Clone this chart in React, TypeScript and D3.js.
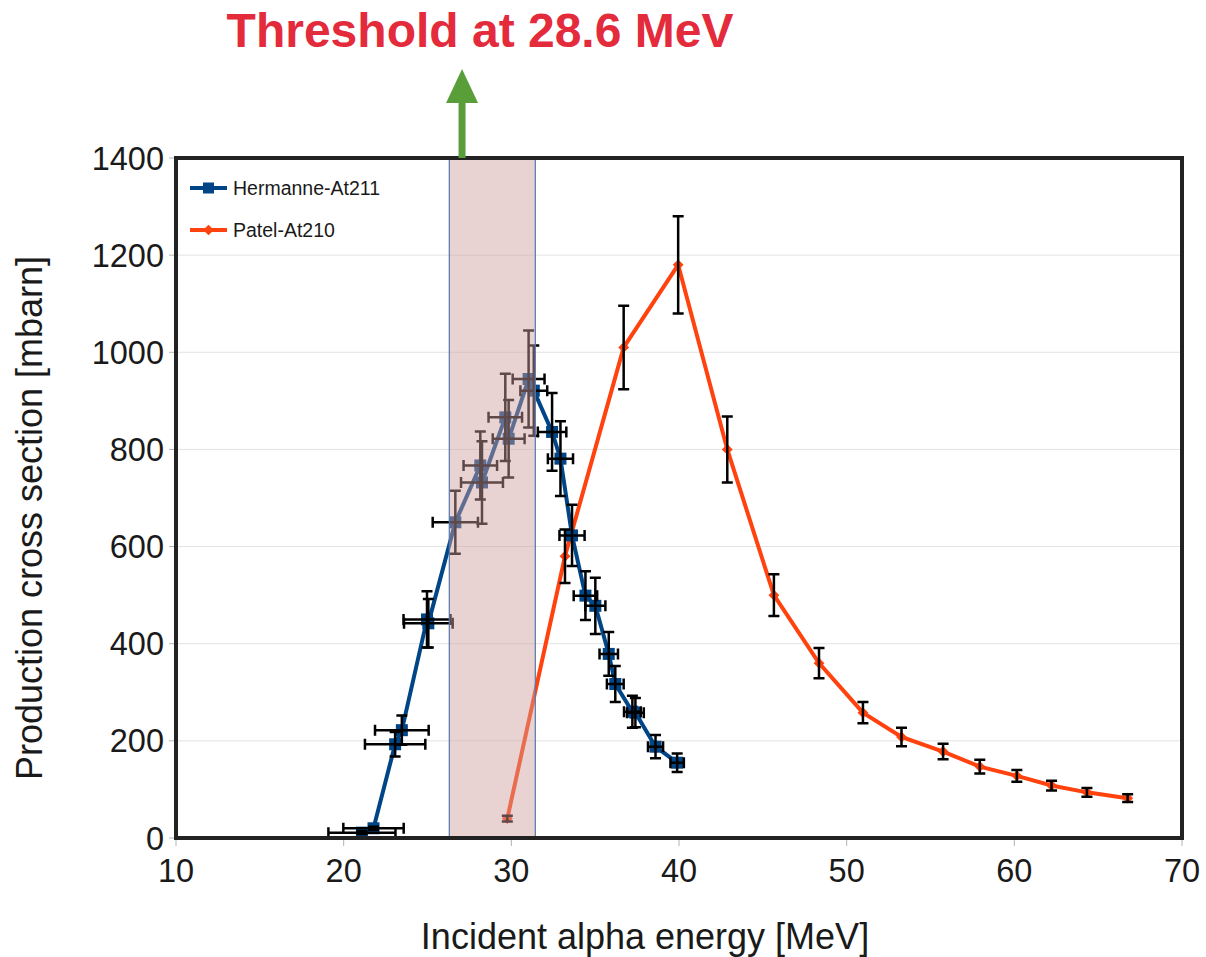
import React, { useEffect, useRef } from "react"
import * as d3 from "d3"

// Hermanne-At211 measurements (energy MeV, cross section mbarn, errors)
const hermanneEnergy = [21.09, 21.78, 23.07, 23.47, 24.97, 25.05, 26.66, 28.15, 28.25, 29.64, 29.84, 31.03, 31.34, 32.43, 32.93, 33.62, 34.42, 35.01, 35.81, 36.2, 37.22, 37.4, 38.6, 39.89]
const hermanneXs = [11, 20, 193, 222, 450, 442, 650, 767, 732, 866, 822, 945, 921, 836, 781, 623, 499, 478, 379, 317, 260, 258, 188, 155]
const hermanneXErr = [2.0, 1.8, 1.8, 1.6, 1.4, 1.45, 1.35, 1.0, 1.25, 1.0, 0.95, 0.95, 0.8, 0.85, 0.75, 0.75, 0.7, 0.6, 0.55, 0.5, 0.5, 0.5, 0.45, 0.4]
const hermanneYErr = [3, 3, 25, 30, 58, 50, 65, 70, 85, 90, 80, 100, 93, 80, 77, 63, 50, 58, 45, 37, 33, 30, 24, 19]

// Patel-At210 measurements
const patelEnergy = [29.76, 33.2, 36.7, 39.95, 42.88, 45.66, 48.35, 50.97, 53.27, 55.75, 57.94, 60.15, 62.22, 64.33, 66.76]
const patelXs = [40, 580, 1010, 1180, 800, 500, 360, 258, 208, 178, 147, 128, 108, 94, 82]
const patelYErr = [6, 55, 86, 100, 68, 43, 31, 22, 19, 16, 14, 12, 10, 9, 8]

const xTicks = [10, 20, 30, 40, 50, 60, 70]
const yTicks = [0, 200, 400, 600, 800, 1000, 1200, 1400]

// shaded energy window and threshold arrow position
const bandRange = [26.3, 31.43]
const arrowEnergy = 27.06

const seriesNames = ["Hermanne-At211", "Patel-At210"]

const App = () => {
  const svgRef = useRef<SVGSVGElement>(null)

  useEffect(() => {
    if (!svgRef.current) return
    const svg = d3.select(svgRef.current)
    svg.selectAll("*").remove()

    const left = 176, right = 1182, top = 158, bottom = 838
    const font = "'Liberation Sans', Arial, sans-serif"
    const blue = "#004586"
    const orange = "#ff420e"

    const x = d3.scaleLinear().domain([10, 70]).range([left, right])
    const y = d3.scaleLinear().domain([0, 1400]).range([bottom, top])

    // grid
    svg.append("g")
      .selectAll("line")
      .data(yTicks.slice(1, -1))
      .enter()
      .append("line")
      .attr("x1", left).attr("x2", right)
      .attr("y1", d => y(d)).attr("y2", d => y(d))
      .attr("stroke", "#e3e3e3")
      .attr("stroke-width", 1)

    // small tick marks outside the frame
    svg.append("g")
      .selectAll("line")
      .data(xTicks)
      .enter()
      .append("line")
      .attr("x1", d => x(d)).attr("x2", d => x(d))
      .attr("y1", bottom).attr("y2", bottom + 8)
      .attr("stroke", "#b3b3b3")
      .attr("stroke-width", 1)
    svg.append("g")
      .selectAll("line")
      .data(yTicks)
      .enter()
      .append("line")
      .attr("x1", left - 7).attr("x2", left)
      .attr("y1", d => y(d)).attr("y2", d => y(d))
      .attr("stroke", "#b3b3b3")
      .attr("stroke-width", 1)

    // tick labels
    svg.append("g")
      .selectAll("text")
      .data(xTicks)
      .enter()
      .append("text")
      .attr("x", d => x(d))
      .attr("y", bottom + 44)
      .attr("text-anchor", "middle")
      .attr("font-family", font)
      .attr("font-size", 32.5)
      .attr("fill", "#1a1a1a")
      .text(d => d)
    svg.append("g")
      .selectAll("text")
      .data(yTicks)
      .enter()
      .append("text")
      .attr("x", left - 12)
      .attr("y", d => y(d) + 11.5)
      .attr("text-anchor", "end")
      .attr("font-family", font)
      .attr("font-size", 32.5)
      .attr("fill", "#1a1a1a")
      .text(d => d)

    // axis titles
    svg.append("text")
      .attr("x", 645)
      .attr("y", 949)
      .attr("text-anchor", "middle")
      .attr("font-family", font)
      .attr("font-size", 36)
      .attr("fill", "#1a1a1a")
      .text("Incident alpha energy [MeV]")
    svg.append("text")
      .attr("transform", "translate(42, 518) rotate(-90)")
      .attr("text-anchor", "middle")
      .attr("font-family", font)
      .attr("font-size", 36)
      .attr("fill", "#1a1a1a")
      .text("Production cross section [mbarn]")

    const hermanne = hermanneEnergy.map((e, i) => ({ e, v: hermanneXs[i], ex: hermanneXErr[i], ey: hermanneYErr[i] }))
    const patel = patelEnergy.map((e, i) => ({ e, v: patelXs[i], ex: 0, ey: patelYErr[i] }))

    const line = d3.line<any>().x(d => x(d.e)).y(d => y(d.v))
    const plot = svg.append("g")

    // lines
    plot.append("path")
      .attr("d", line(hermanne))
      .attr("fill", "none")
      .attr("stroke", blue)
      .attr("stroke-width", 4)
    plot.append("path")
      .attr("d", line(patel))
      .attr("fill", "none")
      .attr("stroke", orange)
      .attr("stroke-width", 4)

    // markers
    plot.append("g")
      .selectAll("rect")
      .data(hermanne)
      .enter()
      .append("rect")
      .attr("x", d => x(d.e) - 6)
      .attr("y", d => y(d.v) - 6)
      .attr("width", 12)
      .attr("height", 12)
      .attr("fill", blue)
    plot.append("g")
      .selectAll("path")
      .data(patel)
      .enter()
      .append("path")
      .attr("d", d3.symbol().type(d3.symbolDiamond2).size(75)())
      .attr("transform", d => `translate(${x(d.e)}, ${y(d.v)})`)
      .attr("fill", orange)

    // error bars
    const bars = plot.append("g")
      .attr("stroke", "#000")
      .attr("stroke-width", 2.5)
      .attr("fill", "none")
    const cap = 5.5
    hermanne.concat(patel).forEach(d => {
      const cx = x(d.e), cy = y(d.v)
      const y0 = y(d.v - d.ey), y1 = y(d.v + d.ey)
      bars.append("path")
        .attr("d", `M${cx},${y0}V${y1}M${cx - cap},${y0}H${cx + cap}M${cx - cap},${y1}H${cx + cap}`)
      if (d.ex > 0) {
        const x0 = x(d.e - d.ex), x1 = x(d.e + d.ex)
        bars.append("path")
          .attr("d", `M${x0},${cy}H${x1}M${x0},${cy - cap}V${cy + cap}M${x1},${cy - cap}V${cy + cap}`)
      }
    })

    // shaded band drawn over the data
    svg.append("rect")
      .attr("x", x(bandRange[0]))
      .attr("y", top)
      .attr("width", x(bandRange[1]) - x(bandRange[0]))
      .attr("height", bottom - top)
      .attr("fill", "rgba(206,159,157,0.46)")
      .attr("stroke", "#5577aa")
      .attr("stroke-width", 1.2)

    // frame
    svg.append("rect")
      .attr("x", left)
      .attr("y", top)
      .attr("width", right - left)
      .attr("height", bottom - top)
      .attr("fill", "none")
      .attr("stroke", "#222")
      .attr("stroke-width", 4)

    // legend
    const legend = svg.append("g")
    seriesNames.forEach((name, i) => {
      const ly = 188 + i * 42
      const color = i === 0 ? blue : orange
      legend.append("line")
        .attr("x1", 190).attr("x2", 227)
        .attr("y1", ly).attr("y2", ly)
        .attr("stroke", color)
        .attr("stroke-width", 4)
      if (i === 0) {
        legend.append("rect")
          .attr("x", 203).attr("y", ly - 5.5)
          .attr("width", 11).attr("height", 11)
          .attr("fill", color)
      } else {
        legend.append("path")
          .attr("d", d3.symbol().type(d3.symbolDiamond2).size(70)())
          .attr("transform", `translate(208.5, ${ly})`)
          .attr("fill", color)
      }
      legend.append("text")
        .attr("x", 233)
        .attr("y", ly + 7)
        .attr("font-family", font)
        .attr("font-size", 19.5)
        .attr("fill", "#1a1a1a")
        .text(name)
    })

    // threshold arrow
    const ax = x(arrowEnergy)
    svg.append("rect")
      .attr("x", ax - 3.5)
      .attr("y", 101)
      .attr("width", 7)
      .attr("height", top - 101)
      .attr("fill", "#5a9e3a")
    svg.append("path")
      .attr("d", `M${ax},69L${ax + 16},103L${ax - 16},103Z`)
      .attr("fill", "#5a9e3a")

    svg.append("text")
      .attr("x", 480)
      .attr("y", 47)
      .attr("text-anchor", "middle")
      .attr("font-family", font)
      .attr("font-weight", "bold")
      .attr("font-size", 48)
      .attr("fill", "#e32b3c")
      .text("Threshold at 28.6 MeV")
  }, [])

  return (
    <svg
      ref={svgRef}
      width={1206}
      height={957}
      style={{ position: "absolute", left: 0, top: 0, background: "#fff" }}
    ></svg>
  )
}

export default App
